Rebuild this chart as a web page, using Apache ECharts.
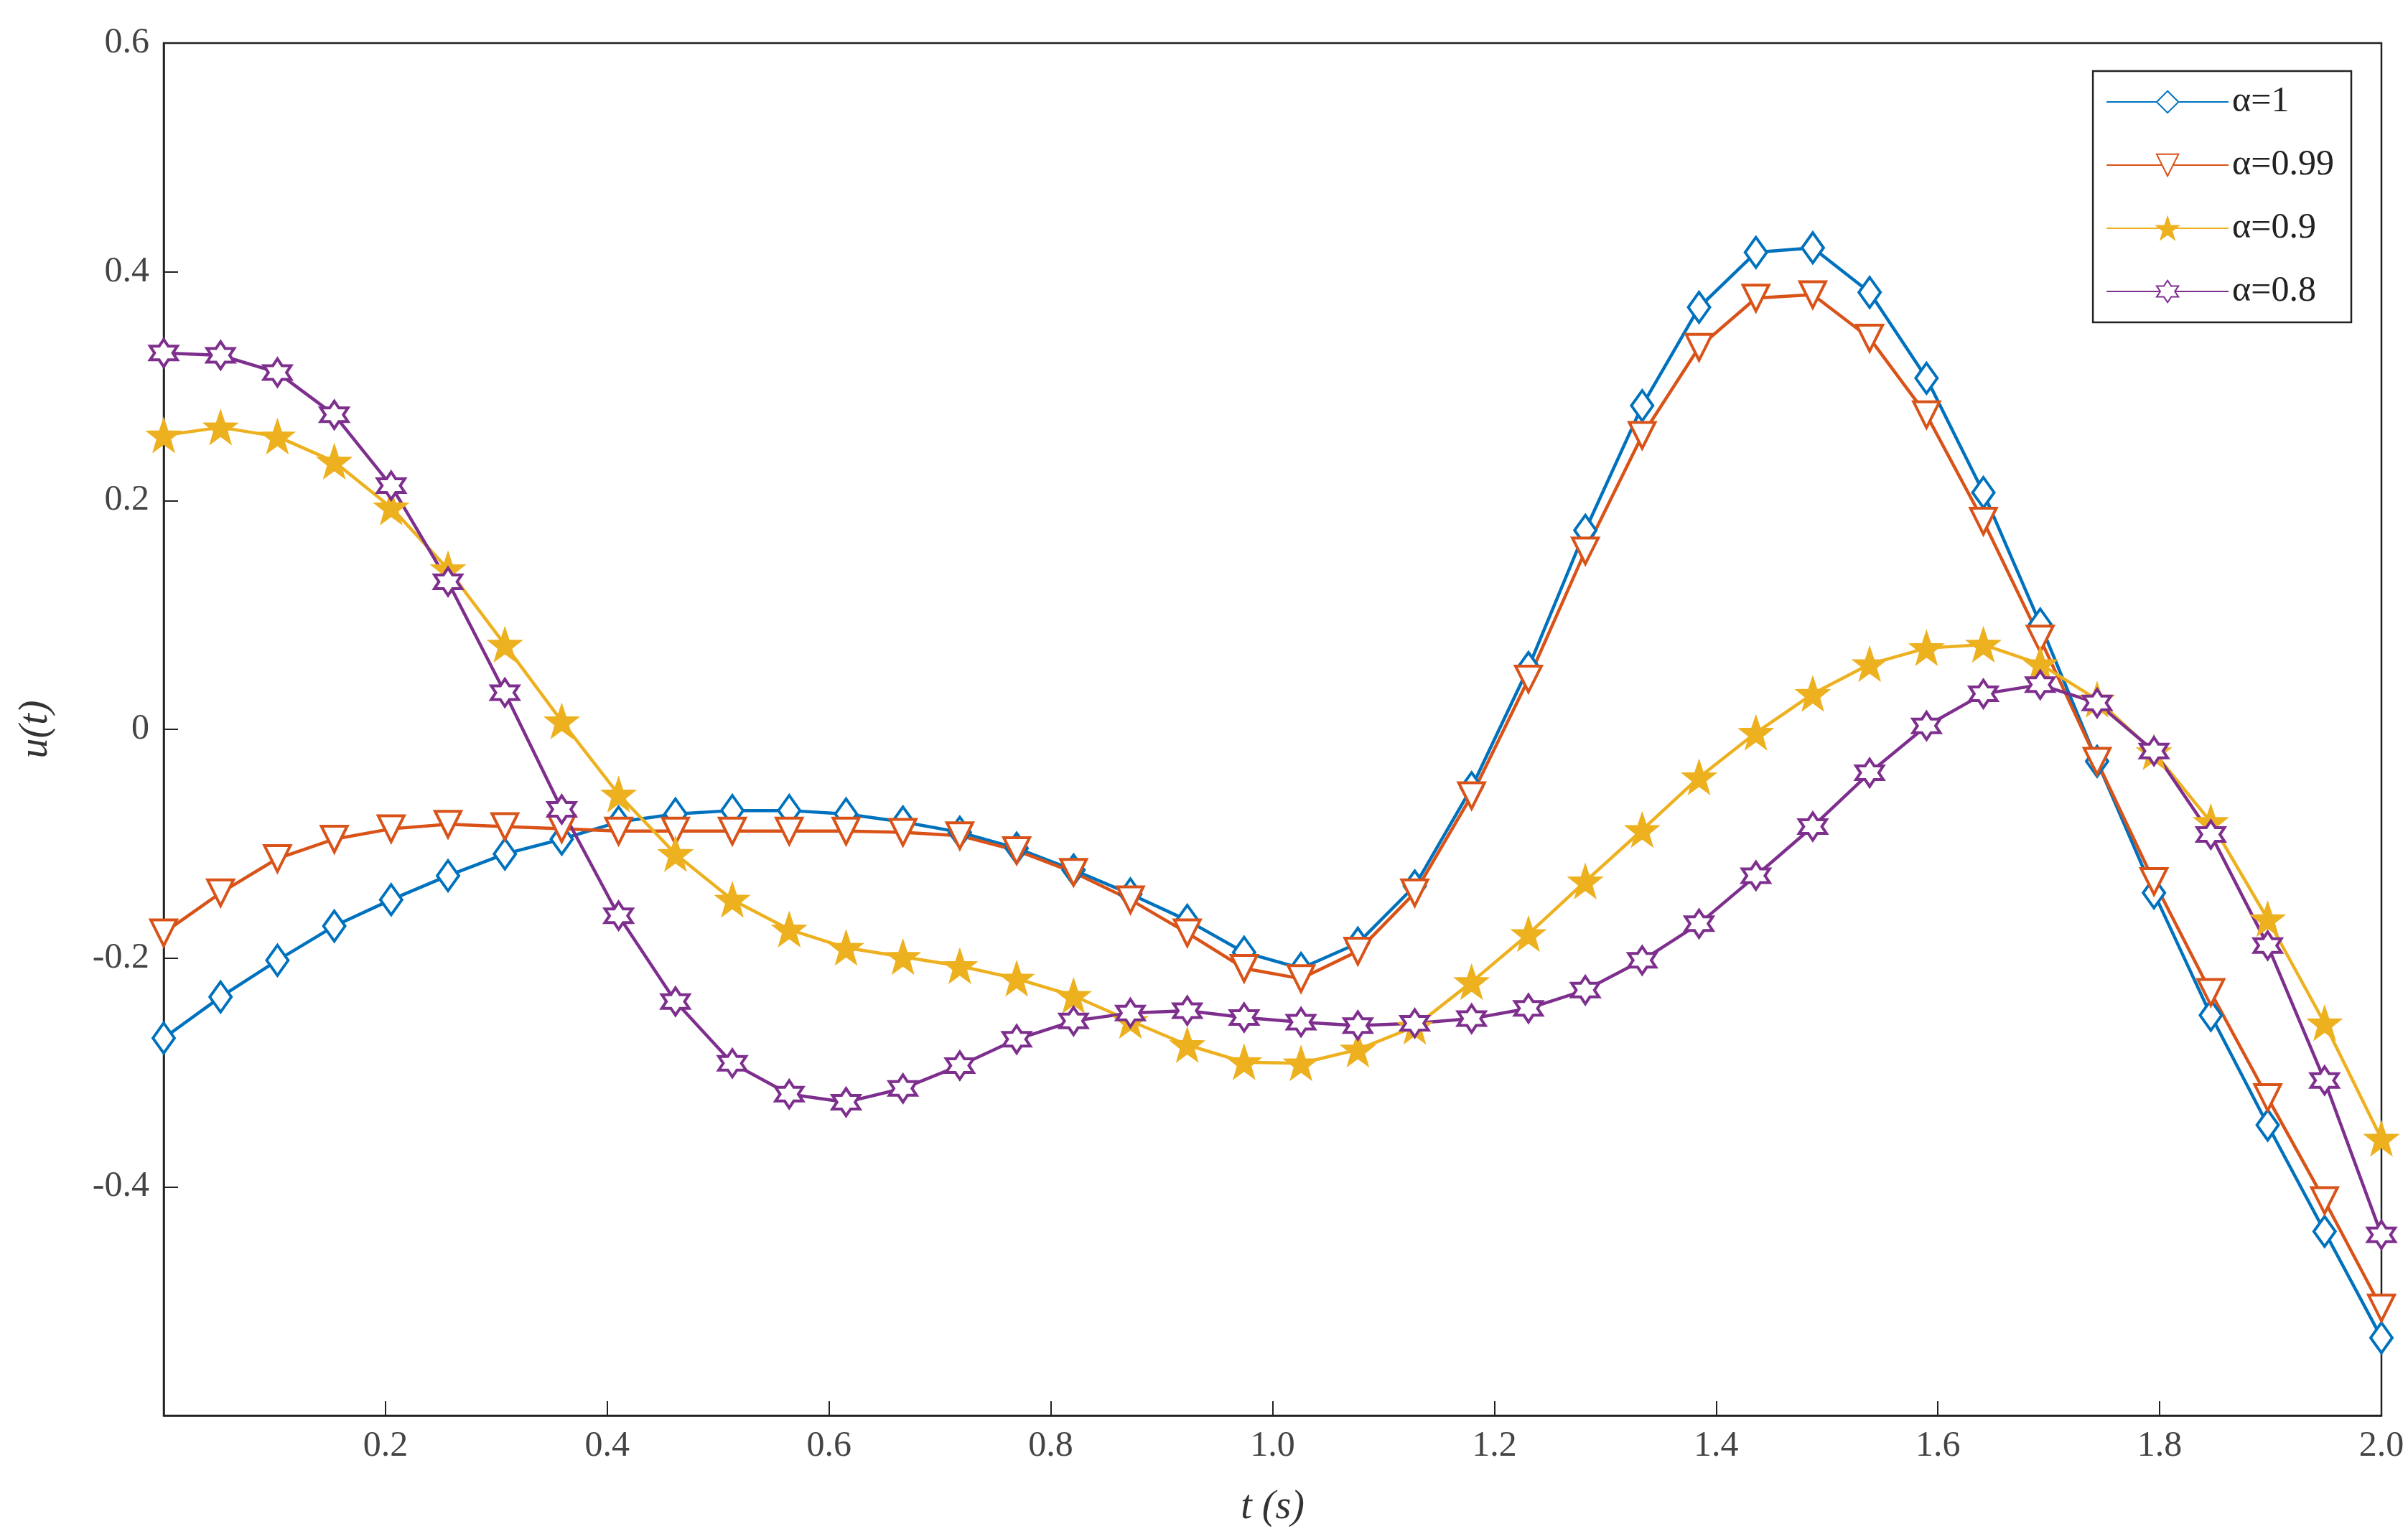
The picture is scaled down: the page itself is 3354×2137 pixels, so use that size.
<!DOCTYPE html>
<html>
<head>
<meta charset="utf-8">
<script src="https://cdn.jsdelivr.net/npm/echarts@6/dist/echarts.min.js"></script>
<style>html,body{margin:0;background:#fff}#chart{width:3354px;height:2137px}</style>
</head>
<body>
<div id="chart"></div>
<script>
// sample times: 40 points evenly spaced over [0, 2]
const tValues = Array.from({ length: 40 }, (_, i) => (i * 2) / 39);

const alpha1 = [-0.27, -0.234, -0.202, -0.172, -0.149, -0.128, -0.109, -0.096, -0.081, -0.074,
  -0.071, -0.071, -0.074, -0.081, -0.09, -0.104, -0.123, -0.144, -0.167, -0.195,
  -0.209, -0.187, -0.137, -0.051, 0.054, 0.174, 0.283, 0.369, 0.417, 0.421,
  0.382, 0.307, 0.207, 0.092, -0.028, -0.143, -0.25, -0.346, -0.439, -0.532];
const alpha099 = [-0.178, -0.143, -0.113, -0.096, -0.087, -0.083, -0.085, -0.087, -0.089, -0.089,
  -0.089, -0.089, -0.089, -0.09, -0.093, -0.106, -0.125, -0.149, -0.178, -0.209,
  -0.218, -0.194, -0.143, -0.058, 0.044, 0.156, 0.257, 0.334, 0.377, 0.38,
  0.342, 0.275, 0.182, 0.079, -0.028, -0.133, -0.23, -0.322, -0.412, -0.506];
const alpha09 = [0.257, 0.264, 0.256, 0.234, 0.194, 0.14, 0.074, 0.007, -0.057, -0.109,
  -0.149, -0.175, -0.191, -0.199, -0.207, -0.218, -0.233, -0.255, -0.276, -0.291,
  -0.292, -0.28, -0.26, -0.221, -0.179, -0.133, -0.088, -0.042, -0.003, 0.031,
  0.057, 0.071, 0.074, 0.057, 0.026, -0.02, -0.081, -0.166, -0.257, -0.358];
const alpha08 = [0.329, 0.327, 0.312, 0.275, 0.213, 0.129, 0.032, -0.07, -0.163, -0.238,
  -0.292, -0.319, -0.326, -0.314, -0.294, -0.271, -0.255, -0.248, -0.246, -0.252,
  -0.256, -0.259, -0.257, -0.253, -0.244, -0.228, -0.202, -0.17, -0.128, -0.085,
  -0.038, 0.003, 0.031, 0.039, 0.023, -0.019, -0.092, -0.189, -0.307, -0.442];

const seriesNames = ['α=1', 'α=0.99', 'α=0.9', 'α=0.8'];
const colors = ['#0072BD', '#D95319', '#EDB120', '#7E2F8E'];

const starPath = 'path://M0,-10L2.35,-3.24L9.51,-3.09L3.8,1.24L5.88,8.09L0,4L-5.88,8.09L-3.8,1.24L-9.51,-3.09L-2.35,-3.24Z';
const hexPath = 'path://M0,-10L2.89,-5L8.66,-5L5.77,0L8.66,5L2.89,5L0,10L-2.89,5L-8.66,5L-5.77,0L-8.66,-5L-2.89,-5Z';

const font = 'Liberation Serif';

const mk = (name, data, color, symbol, size, fill, extra) => Object.assign({
  name: name,
  type: 'line',
  data: tValues.map((t, i) => [t, data[i]]),
  symbol: symbol,
  symbolSize: size,
  lineStyle: { color: color, width: 4.5 },
  itemStyle: { color: fill, borderColor: color, borderWidth: 4 },
}, extra || {});

const chart = echarts.init(document.getElementById('chart'));
chart.setOption({
  animation: false,
  color: colors,
  textStyle: { fontFamily: font },
  grid: { left: 228, right: 37, top: 60, bottom: 165, show: true, borderColor: '#222', borderWidth: 2.5 },
  legend: {
    right: 79, top: 99, orient: 'vertical',
    backgroundColor: '#fff', borderColor: '#222', borderWidth: 2.5,
    padding: [18, 24, 18, 18], itemGap: 38, itemWidth: 170, itemHeight: 38,
    textStyle: { fontSize: 50, color: '#222', fontFamily: font },
    data: seriesNames,
  },
  xAxis: {
    type: 'value', min: 0, max: 2, interval: 0.2,
    name: 't (s)', nameLocation: 'middle', nameGap: 100,
    nameTextStyle: { fontSize: 56, fontStyle: 'italic', color: '#333', fontFamily: font },
    axisLine: { onZero: false, lineStyle: { color: '#222', width: 2.5 } },
    axisTick: { inside: true, length: 20, lineStyle: { color: '#222', width: 2 } },
    splitLine: { show: false },
    axisLabel: { fontSize: 50, color: '#444', margin: 18, formatter: v => v === 0 ? '' : v.toFixed(1) },
  },
  yAxis: {
    type: 'value', min: -0.6, max: 0.6, interval: 0.2,
    name: 'u(t)', nameLocation: 'middle', nameGap: 150, nameRotate: 90,
    nameTextStyle: { fontSize: 56, fontStyle: 'italic', color: '#333', fontFamily: font },
    axisLine: { onZero: false, lineStyle: { color: '#222', width: 2.5 } },
    axisTick: { inside: true, length: 20, lineStyle: { color: '#222', width: 2 } },
    splitLine: { show: false },
    axisLabel: { fontSize: 50, color: '#444', margin: 20,
      formatter: v => Math.abs(v + 0.6) < 1e-6 ? '' : (Math.abs(v) < 1e-6 ? '0' : v.toFixed(1)) },
  },
  series: [
    mk(seriesNames[0], alpha1, colors[0], 'diamond', [30, 42], '#fff'),
    mk(seriesNames[1], alpha099, colors[1], 'triangle', 36, '#fff', { symbolRotate: 180 }),
    mk(seriesNames[2], alpha09, colors[2], starPath, 40, colors[2]),
    mk(seriesNames[3], alpha08, colors[3], hexPath, 38, '#fff'),
  ],
});
</script>
</body>
</html>
